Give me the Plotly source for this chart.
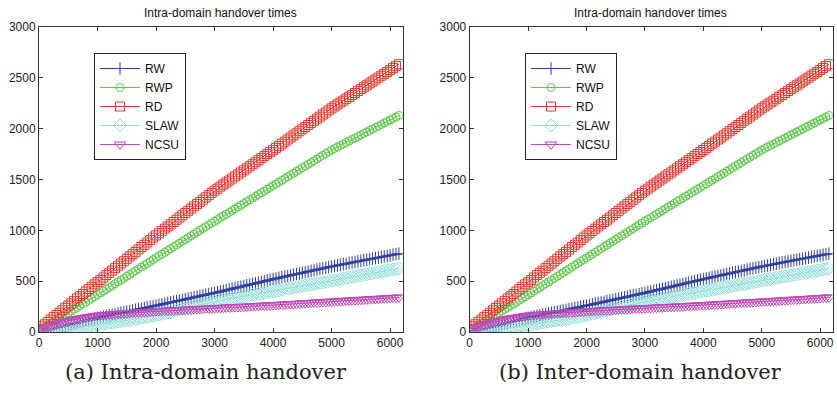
import plotly.graph_objects as go

W, H = 837, 394

X = list(range(0, 6200, 50))

RW = [0, 7, 14, 21, 28, 35, 42, 49, 56, 63, 70, 77, 84, 91, 98, 105, 112, 119, 126, 133, 140,
      146, 152, 158, 164, 170, 176, 182, 188, 194, 200, 206, 212, 218, 224, 230, 236, 242, 248, 254, 260,
      266, 272, 279, 285, 291, 297, 304, 310, 316, 322, 329, 335, 341, 347, 354, 360, 366, 372, 379, 385,
      391, 398, 405, 412, 418, 425, 432, 439, 445, 452, 459, 466, 472, 479, 486, 493, 499, 506, 513, 520,
      526, 532, 539, 545, 551, 557, 564, 570, 576, 582, 589, 595, 601, 607, 614, 620, 626, 632, 639, 645,
      650, 656, 661, 667, 672, 678, 683, 689, 694, 700, 705, 711, 716, 721, 727, 732, 738, 743, 749, 754,
      760, 765, 770]
RWP = [10, 28, 46, 63, 81, 99, 117, 134, 152, 170, 188, 205, 223, 241, 259, 276, 294, 312, 330, 347, 365,
       383, 402, 420, 438, 456, 475, 493, 511, 529, 548, 566, 584, 602, 621, 639, 657, 675, 694, 712, 730,
       748, 766, 784, 802, 820, 838, 856, 874, 892, 910, 928, 946, 964, 982, 1000, 1018, 1036, 1054, 1072, 1090,
       1107, 1125, 1142, 1160, 1177, 1195, 1212, 1230, 1247, 1265, 1282, 1300, 1317, 1335, 1352, 1370, 1387, 1405, 1422, 1440,
       1457, 1475, 1492, 1510, 1527, 1545, 1562, 1580, 1597, 1615, 1632, 1650, 1667, 1685, 1702, 1720, 1737, 1755, 1772, 1790,
       1805, 1820, 1835, 1849, 1864, 1879, 1894, 1908, 1923, 1938, 1953, 1967, 1982, 1997, 2012, 2026, 2041, 2056, 2071, 2085,
       2100, 2115, 2130]
RD = [30, 55, 76, 100, 122, 146, 168, 190, 214, 238, 260, 282, 306, 330, 352, 374, 398, 422, 444, 468, 490,
      512, 536, 560, 582, 604, 628, 652, 674, 696, 720, 744, 766, 788, 812, 836, 858, 880, 904, 928, 950,
      972, 994, 1016, 1038, 1060, 1082, 1104, 1126, 1148, 1170, 1192, 1214, 1236, 1258, 1280, 1302, 1324, 1346, 1368, 1390,
      1410, 1430, 1450, 1470, 1490, 1510, 1530, 1550, 1570, 1590, 1610, 1630, 1650, 1670, 1690, 1710, 1730, 1750, 1770, 1790,
      1811, 1831, 1852, 1872, 1893, 1913, 1934, 1954, 1975, 1995, 2016, 2036, 2057, 2077, 2098, 2118, 2139, 2159, 2180, 2200,
      2219, 2238, 2257, 2275, 2294, 2313, 2332, 2351, 2370, 2389, 2407, 2426, 2445, 2464, 2483, 2502, 2521, 2540, 2558, 2577,
      2596, 2615, 2634]
SLAW = [0, 2, 5, 8, 11, 14, 17, 20, 24, 27, 31, 34, 38, 42, 46, 50, 54, 58, 62, 66, 70,
        74, 79, 83, 88, 92, 97, 101, 106, 110, 115, 119, 124, 128, 133, 138, 143, 148, 154, 159, 165,
        171, 178, 185, 192, 198, 205, 212, 219, 225, 232, 239, 246, 252, 259, 266, 273, 279, 286, 293, 300,
        305, 310, 315, 320, 325, 330, 335, 340, 345, 350, 355, 360, 365, 370, 375, 380, 385, 390, 395, 400,
        405, 410, 416, 421, 426, 431, 437, 442, 447, 452, 458, 463, 468, 473, 479, 484, 489, 494, 500, 505,
        510, 515, 521, 526, 531, 536, 542, 547, 552, 557, 563, 568, 573, 578, 584, 589, 594, 599, 605, 610,
        615, 620, 625]
NCSU = [10, 23, 35, 46, 57, 67, 77, 86, 95, 103, 110, 116, 122, 128, 133, 138, 143, 148, 152, 156, 160,
        163, 165, 168, 170, 173, 175, 178, 180, 182, 184, 186, 188, 190, 192, 194, 196, 198, 200, 202, 204,
        206, 207, 209, 210, 212, 213, 215, 216, 218, 219, 221, 222, 224, 225, 227, 228, 230, 231, 233, 234,
        236, 237, 239, 240, 242, 243, 245, 246, 248, 249, 251, 252, 254, 255, 257, 258, 260, 261, 263, 264,
        266, 268, 269, 271, 273, 275, 276, 278, 280, 282, 283, 285, 287, 289, 290, 292, 294, 296, 297, 299,
        301, 303, 304, 306, 308, 310, 311, 313, 315, 317, 318, 320, 322, 324, 325, 327, 329, 331, 332, 334,
        336, 338, 340]

SERIES = [
    ("RW", RW, "#2E3F9E", "cross-thin-open", 9),
    ("RWP", RWP, "#5CC84A", "circle-open", 8),
    ("RD", RD, "#E5352B", "square-open", 9),
    ("SLAW", SLAW, "#8EDDD5", "diamond-open", 10),
    ("NCSU", NCSU, "#C048B8", "triangle-down-open", 10),
]

PANEL_TITLE = "Intra-domain handover times"
CAPTIONS = ["(a) Intra-domain handover", "(b) Inter-domain handover"]

fig = go.Figure()

panels = [
    dict(xa="x", ya="y", legend="legend"),
    dict(xa="x2", ya="y2", legend="legend2"),
]

for p in panels:
    for name, vals, col, sym, sz in SERIES:
        fig.add_trace(go.Scatter(
            x=X, y=vals, name=name, mode="lines+markers",
            xaxis=p["xa"], yaxis=p["ya"], legend=p["legend"],
            line=dict(color=col, width=1),
            marker=dict(symbol=sym, size=sz, color=col,
                        line=dict(color=col, width=1)),
        ))

def px_x(v):
    return v / W

def px_y(v):
    return 1 - v / H

ydom = [px_y(332), px_y(27)]
xdom1 = [px_x(39), px_x(402.7)]
xdom2 = [px_x(469.7), px_x(832.7)]

axis_common = dict(
    showgrid=False, zeroline=False, showline=True, linecolor="#333333",
    linewidth=1, mirror="ticks", ticks="inside", ticklen=4, automargin=False,
    tickcolor="#333333", tickfont=dict(family="Liberation Sans", size=12, color="#222222"),
)

leg_common = dict(xanchor="left", yanchor="top",
                  bordercolor="#222222", borderwidth=1, bgcolor="white",
                  font=dict(family="Liberation Sans", size=12, color="#111111"),
                  tracegroupgap=0, itemwidth=40)

fig.update_layout(
    width=W, height=H,
    margin=dict(l=0, r=0, t=0, b=0),
    paper_bgcolor="white", plot_bgcolor="white",
    xaxis=dict(domain=xdom1, range=[0, 6215], dtick=1000, tick0=0, anchor="y", **axis_common),
    yaxis=dict(domain=ydom, range=[0, 3000], dtick=500, tick0=0, anchor="x", **axis_common),
    xaxis2=dict(domain=xdom2, range=[0, 6215], dtick=1000, tick0=0, anchor="y2", **axis_common),
    yaxis2=dict(domain=ydom, range=[0, 3000], dtick=500, tick0=0, anchor="x2", **axis_common),
    legend=dict(x=px_x(94), y=px_y(53), **leg_common),
    legend2=dict(x=px_x(525), y=px_y(53), **leg_common),
    showlegend=True,
)

annotations = []
for cx in (220, 650):
    annotations.append(dict(
        x=px_x(cx), y=px_y(13), xref="paper", yref="paper",
        text=PANEL_TITLE, showarrow=False, xanchor="center", yanchor="middle",
        font=dict(family="Liberation Sans", size=12, color="#111111"),
    ))
for cx, cap in zip((206, 640), CAPTIONS):
    annotations.append(dict(
        x=px_x(cx), y=px_y(372), xref="paper", yref="paper",
        text=cap, showarrow=False, xanchor="center", yanchor="middle",
        font=dict(family="DejaVu Serif", size=21, color="#222222"),
    ))
fig.update_layout(annotations=annotations)

fig.write_html(
    "out.html",
    config={"displayModeBar": False},
    post_script="document.body.style.margin='0';document.body.style.overflow='hidden';",
)
